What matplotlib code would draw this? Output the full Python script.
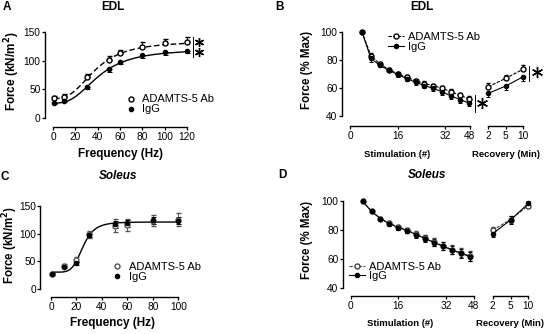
import numpy as np
import matplotlib
matplotlib.use("Agg")
import matplotlib.pyplot as plt
from matplotlib.lines import Line2D

plt.rcParams['font.family'] = ['Liberation Sans', 'DejaVu Sans']

# ---------------- data ----------------
# Panel A: EDL force-frequency
freq_A = [1, 10, 30, 50, 60, 80, 100, 120]
adamts_A = [35.5, 37, 71, 101, 113, 124, 130, 132]
adamts_A_err = [3.5, 4, 5.8, 7, 5.8, 8.7, 7, 10]
igg_A = [26.7, 30, 53.5, 85, 98, 110, 115, 117]
igg_A_err = [1.5, 2, 2.3, 4, 3, 5.8, 4.6, 4]
# fitted sigmoid parameters (min, max, EC50, Hill)
fit_adamts_A = (34, 134, 38, 2.8)
fit_igg_A = (26, 120, 41, 2.8)

# Panel C: Soleus force-frequency
freq_C = [1, 10, 20, 30, 50, 60, 80, 100]
adamts_C = [26, 41.6, 52.7, 98.5, 114, 116, 123, 125.5]
adamts_C_err = [2, 3, 4, 6, 11.6, 11, 10, 11]
igg_C = [26, 40, 46, 96.7, 117, 118.5, 124, 123.5]
igg_C_err = [2, 2, 3, 3, 6, 7, 6, 7]
fit_C = (30, 121, 25, 5.5)

# Panel B: EDL fatigue + recovery
stim = [4, 7, 10, 13, 16, 19, 22, 25, 28, 31, 34, 37, 40]
stim_ticks = ['0', '16', '32', '48']
adamts_B = [100, 83, 77, 73, 70, 67.5, 65, 63, 61.5, 59.5, 57, 54.5, 52]
adamts_B_err = [0, 1.5, 1.5, 1.2, 1.2, 1.5, 1.5, 1.5, 1.5, 1.8, 1.8, 1.8, 1.9]
igg_B = [100, 81, 76, 72.5, 69.5, 66.5, 64, 61.5, 59.5, 57, 54, 51.5, 49]
igg_B_err = [0, 2.5, 1.5, 1.2, 1.5, 1.8, 2, 2, 2, 2.2, 2.4, 2.4, 2.4]
recovery = ['2', '5', '10']
adamts_B_rec = [60.7, 66.7, 73.3]
adamts_B_rec_err = [2.4, 2.6, 2.9]
igg_B_rec = [56, 61.2, 67.9]
igg_B_rec_err = [2.4, 2.9, 2.9]

# Panel D: Soleus fatigue + recovery
adamts_D = [100, 93, 88, 84.7, 82.3, 80, 77.2, 74.5, 71.7, 69.2, 66.5, 64.2, 62]
igg_D = [100, 93, 88, 84.3, 81.8, 79.6, 76.8, 74.1, 71.3, 68.8, 66.2, 63.9, 61.6]
err_D = [0, 0.8, 1, 1.3, 1.5, 1.8, 2, 2.2, 2.5, 2.7, 3, 3.1, 3.3]
adamts_D_rec = [80, 87.3, 97]
igg_D_rec = [77.5, 87, 98.5]
err_D_rec = [2.5, 2.5, 1.5]

label_ad = 'ADAMTS-5 Ab'
label_ig = 'IgG'

# ---------------- layout helpers ----------------
W, H = 550, 334
fig = plt.figure(figsize=(W / 100, H / 100), dpi=100)


def rect(x0, y0, x1, y1):
    return [x0 / W, 1 - y1 / H, (x1 - x0) / W, (y1 - y0) / H]


def pt(p):
    return p * 72 / 100


def style(ax, left_out, bottom_out, show_left=True):
    for s in ['top', 'right']:
        ax.spines[s].set_visible(False)
    ax.spines['left'].set_position(('outward', pt(left_out)))
    ax.spines['bottom'].set_position(('outward', pt(bottom_out)))
    for s in ['left', 'bottom']:
        ax.spines[s].set_linewidth(1.0)
    if not show_left:
        ax.spines['left'].set_visible(False)
        ax.tick_params(axis='y', left=False, labelleft=False)
    ax.patch.set_alpha(0)
    ax.tick_params(length=2.2, width=0.9, labelsize=7.3, colors='black')
    ax.tick_params(axis='y', pad=0.8)
    ax.tick_params(axis='x', pad=1.6)


def ftext(x, y, s, **kw):
    fig.text(x / W, 1 - y / H, s, ha='center', va='center', **kw)


def vline(x, y0, y1):
    fig.add_artist(Line2D([x / W, x / W], [1 - y0 / H, 1 - y1 / H],
                          color='black', lw=0.7, transform=fig.transFigure))


def star(x, y, size):
    fig.add_artist(Line2D([x / W], [1 - y / H], marker=(6, 2, 0), ms=size,
                          mew=1.0, color='black', transform=fig.transFigure))


def hill(x, p):
    lo, hi, ec, n = p
    x = np.asarray(x, float)
    return lo + (hi - lo) / (1 + (ec / x) ** n)


ms_open = 3.6
ms_fill = 3.0

# ---------------- Panel A ----------------
axA = fig.add_axes(rect(53, 32, 187, 118))
style(axA, 8.5, 9)
xs = np.linspace(1, 120, 300)
axA.plot(xs, hill(xs, fit_adamts_A), color='black', lw=1.0, ls=(0, (4, 2)))
axA.plot(xs, hill(xs, fit_igg_A), color='black', lw=1.0)
axA.errorbar(freq_A, adamts_A, yerr=[np.zeros(len(adamts_A)), adamts_A_err],
             fmt='o', ms=ms_open, mfc='white', mec='black', mew=1.0,
             ecolor='black', elinewidth=0.7, capsize=1.8, capthick=0.7, clip_on=False)
axA.errorbar(freq_A, igg_A, yerr=[igg_A_err, np.zeros(len(igg_A))],
             fmt='o', ms=ms_fill, mfc='black', mec='black',
             ecolor='black', elinewidth=0.7, capsize=1.8, capthick=0.7, clip_on=False)
axA.set_xlim(0, 120)
axA.set_ylim(0, 150)
axA.set_xticks(range(0, 121, 20))
axA.set_yticks([0, 50, 100, 150])
axA.spines['bottom'].set_bounds(0, 120)
axA.spines['left'].set_bounds(0, 150)
hA = [Line2D([], [], ls='none', marker='o', ms=ms_open, mfc='white', mec='black'),
      Line2D([], [], ls='none', marker='o', ms=ms_fill, mfc='black', mec='black')]
axA.legend(hA, [label_ad, label_ig], loc='upper left', frameon=False, fontsize=8,
           bbox_to_anchor=(125 / W, 1 - 94.5 / H), bbox_transform=fig.transFigure,
           borderpad=0, handlelength=1.0, handletextpad=0.5, labelspacing=0.0,
           borderaxespad=0)
vline(193, 37, 57)
star(199, 42, 6.5)
star(199, 52, 6.5)
ftext(7, 7, 'A', fontsize=8.5, fontweight='bold')
ftext(113, 7.5, 'EDL', fontsize=8.5, fontweight='bold')
ftext(120, 154, 'Frequency (Hz)', fontsize=8.5, fontweight='bold')
ftext(12, 71, 'Force (kN/m$^\\mathbf{2}$)', fontsize=8.5, fontweight='bold', rotation=90)

# ---------------- Panel C ----------------
axC = fig.add_axes(rect(51, 206, 178.3, 288.7))
style(axC, 11, 8.3)
xs = np.linspace(1, 100, 300)
axC.plot(xs, hill(xs, fit_C), color='black', lw=1.0)
axC.errorbar(freq_C, adamts_C, yerr=adamts_C_err,
             fmt='o', ms=ms_open, mfc='white', mec='#555555', mew=1.0,
             ecolor='#555555', elinewidth=0.7, capsize=1.8, capthick=0.7, clip_on=False)
axC.errorbar(freq_C, igg_C, yerr=igg_C_err,
             fmt='o', ms=ms_fill, mfc='black', mec='black',
             ecolor='black', elinewidth=0.7, capsize=1.8, capthick=0.7, clip_on=False)
axC.set_xlim(0, 100)
axC.set_ylim(0, 150)
axC.set_xticks(range(0, 101, 20))
axC.set_yticks([0, 50, 100, 150])
axC.spines['bottom'].set_bounds(0, 100)
axC.spines['left'].set_bounds(0, 150)
hC = [Line2D([], [], ls='none', marker='o', ms=ms_open, mfc='white', mec='#555555'),
      Line2D([], [], ls='none', marker='o', ms=ms_fill, mfc='black', mec='black')]
axC.legend(hC, [label_ad, label_ig], loc='upper left', frameon=False, fontsize=8,
           bbox_to_anchor=(111 / W, 1 - 261.5 / H), bbox_transform=fig.transFigure,
           borderpad=0, handlelength=1.0, handletextpad=0.6, labelspacing=0.05,
           borderaxespad=0)
ftext(5, 177, 'C', fontsize=8.5, fontweight='bold')
ftext(118, 176, 'Soleus', fontsize=8.5, fontweight='bold', style='italic')
ftext(113, 323, 'Frequency (Hz)', fontsize=8.5, fontweight='bold')
ftext(10, 245, 'Force (kN/m$^\\mathbf{2}$)', fontsize=8.3, fontweight='bold', rotation=90)


# ---------------- fatigue panels ----------------
def fatigue(stim_rect, rec_rect, left_out, bottom_out, ad, ad_err, ig, ig_err,
            ad_r, ad_r_err, ig_r, ig_r_err, stim_end, sym, ad_color):
    ax1 = fig.add_axes(rect(*stim_rect))
    ax2 = fig.add_axes(rect(*rec_rect))
    style(ax1, left_out, bottom_out)
    style(ax2, left_out, bottom_out, show_left=False)
    n = len(ad)
    nr = len(ad_r)
    if sym:
        e_ad, e_ig = ad_err, ig_err
        e_adr, e_igr = ad_r_err, ig_r_err
    else:
        e_ad = [np.zeros(n), ad_err]
        e_ig = [ig_err, np.zeros(n)]
        e_adr = [np.zeros(nr), ad_r_err]
        e_igr = [ig_r_err, np.zeros(nr)]
    kw_ad = dict(fmt='-o', color=ad_color, lw=0.8, ls=(0, (3, 1.2)), ms=ms_open,
                 mfc='white', mec=ad_color, mew=1.0, ecolor=ad_color,
                 elinewidth=0.7, capsize=1.6, capthick=0.7, clip_on=False)
    kw_ig = dict(fmt='-o', color='black', lw=0.8, ms=ms_fill, mfc='black',
                 mec='black', ecolor='black', elinewidth=0.7, capsize=1.6,
                 capthick=0.7, clip_on=False)
    ax1.errorbar(stim, ad, yerr=e_ad, **kw_ad)
    ax1.errorbar(stim, ig, yerr=e_ig, **kw_ig)
    xr = np.arange(nr)
    ax2.errorbar(xr, ad_r, yerr=e_adr, **kw_ad)
    ax2.errorbar(xr, ig_r, yerr=e_igr, **kw_ig)
    for a in (ax1, ax2):
        a.set_ylim(40, 100)
        a.set_yticks([40, 60, 80, 100])
    ax1.spines['left'].set_bounds(40, 100)
    ax1.set_xlim(0, stim_end)
    ax1.set_xticks([0, 16, 32, stim_end])
    ax1.set_xticklabels(stim_ticks)
    ax1.spines['bottom'].set_bounds(0, stim_end)
    ax2.set_xlim(0, nr - 1)
    ax2.set_xticks(xr)
    ax2.set_xticklabels(recovery)
    ax2.spines['bottom'].set_bounds(0, nr - 1)
    return ax1, ax2


hB = [Line2D([], [], color='black', lw=0.8, ls=(0, (3, 1.2)), marker='o', ms=ms_open,
             mfc='white', mec='black'),
      Line2D([], [], color='black', lw=0.8, marker='o', ms=ms_fill, mfc='black', mec='black')]

# Panel B
bS, bR = fatigue((350, 31.7, 470, 115.7), (488.3, 31.7, 523.3, 115.7), 8.3, 10.3,
                 adamts_B, adamts_B_err, igg_B, igg_B_err,
                 adamts_B_rec, adamts_B_rec_err, igg_B_rec, igg_B_rec_err,
                 40.3, False, 'black')
bS.legend(hB, [label_ad, label_ig], loc='upper left', frameon=False, fontsize=8,
          bbox_to_anchor=(388 / W, 1 - 31.5 / H), bbox_transform=fig.transFigure,
          borderpad=0, handlelength=1.4, handletextpad=0.4, labelspacing=0.0,
          borderaxespad=0)
vline(475, 95, 112)
star(482, 103, 8)
vline(529, 66, 81)
star(537, 72, 8)
ftext(280, 7, 'B', fontsize=8.5, fontweight='bold')
ftext(422, 7.5, 'EDL', fontsize=8.5, fontweight='bold')
ftext(397, 155, 'Stimulation (#)', fontsize=6.8, fontweight='bold')
ftext(506, 155, 'Recovery (Min)', fontsize=6.8, fontweight='bold')
ftext(307, 70, 'Force (% Max)', fontsize=8.3, fontweight='bold', rotation=90)

# Panel D
dS, dR = fatigue((350.7, 201.3, 474, 287.7), (492.7, 201.3, 528.3, 287.7), 8, 8.3,
                 adamts_D, err_D, igg_D, err_D,
                 adamts_D_rec, err_D_rec, igg_D_rec, err_D_rec,
                 41.4, True, '#444444')
hD = [Line2D([], [], color='#444444', lw=0.8, ls=(0, (3, 1.2)), marker='o', ms=ms_open,
             mfc='white', mec='#444444'),
      Line2D([], [], color='black', lw=0.8, marker='o', ms=ms_fill, mfc='black', mec='black')]
dS.legend(hD, [label_ad, label_ig], loc='upper left', frameon=False, fontsize=8,
          bbox_to_anchor=(349 / W, 1 - 261.5 / H), bbox_transform=fig.transFigure,
          borderpad=0, handlelength=1.4, handletextpad=0.4, labelspacing=-0.05,
          borderaxespad=0)
ftext(282, 175, 'D', fontsize=8.5, fontweight='bold')
ftext(427, 175.5, 'Soleus', fontsize=8.5, fontweight='bold', style='italic')
ftext(400, 324, 'Stimulation (#)', fontsize=6.8, fontweight='bold')
ftext(510, 324, 'Recovery (Min)', fontsize=6.8, fontweight='bold')
ftext(307, 240, 'Force (% Max)', fontsize=8.3, fontweight='bold', rotation=90)

fig.savefig('out.png', dpi=100)
